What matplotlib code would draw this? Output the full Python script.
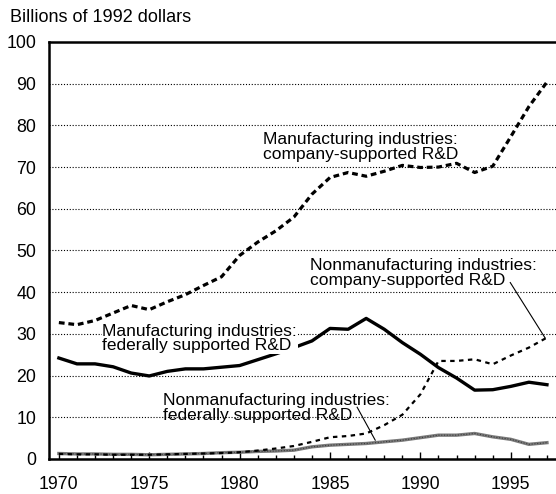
#!/usr/bin/env python3
'''
Industrial R&D by source of funds and industry, 1970-97,
redrawn as out.png.
'''

import numpy as np
from matplotlib import pyplot as plt

plt.rcParams['font.family'] = ['Liberation Sans', 'DejaVu Sans']

YEARS = np.arange(1970, 1998)

# billions of 1992 dollars
MFG_COMPANY = [
    32.7, 32.2, 33.2, 35.0, 36.8, 35.8, 37.7, 39.4, 41.6, 43.7,
    48.8, 52.0, 54.7, 58.0, 63.5, 67.5, 68.7, 67.8, 69.0, 70.4,
    69.9, 70.0, 70.9, 68.7, 70.2, 77.3, 84.5, 90.4,
]
MFG_FEDERAL = [
    24.2, 22.8, 22.8, 22.1, 20.6, 19.9, 21.0, 21.6, 21.6, 22.0,
    22.4, 23.8, 25.2, 26.7, 28.3, 31.3, 31.1, 33.7, 31.1, 27.9,
    25.1, 21.9, 19.4, 16.5, 16.6, 17.4, 18.4, 17.8,
]
NONMFG_COMPANY = [
    1.2, 1.1, 1.1, 1.0, 1.0, 1.0, 1.1, 1.2, 1.3, 1.4,
    1.6, 2.0, 2.5, 3.1, 4.1, 5.2, 5.5, 6.1, 8.1, 10.6,
    15.5, 23.5, 23.5, 23.9, 22.7, 24.8, 26.7, 29.1,
]
NONMFG_FEDERAL = [
    1.3, 1.2, 1.2, 1.1, 1.1, 1.0, 1.1, 1.2, 1.3, 1.5,
    1.6, 1.8, 1.9, 2.1, 2.9, 3.3, 3.5, 3.7, 4.1, 4.5,
    5.1, 5.7, 5.7, 6.1, 5.3, 4.7, 3.5, 3.9,
]

X_TICKS = np.arange(1970, 1996, 5)
Y_TICKS = np.arange(0, 101, 10)
Y_LABEL = 'Billions of 1992 dollars'
PNG_FILENAME = 'out.png'

fig = plt.figure(figsize=(5.56, 4.94), dpi=100)
ax = fig.add_axes([0.088, 0.071, 0.912, 0.844])

# dotted horizontal grid
for y in Y_TICKS[1:-1]:
    ax.axhline(y, color='black', lw=0.8, ls=(0, (1, 1.6)), zorder=1)

ax.plot(YEARS, NONMFG_FEDERAL, color='#7a7a7a', lw=2.4, zorder=2)
ax.plot(YEARS, NONMFG_FEDERAL, color='#3a3a3a', lw=0.8,
        ls=(0, (1, 1.5)), zorder=2)
ax.plot(YEARS, NONMFG_COMPANY, color='black', lw=1.6,
        dashes=(2.0, 2.0), zorder=3)
ax.plot(YEARS, MFG_FEDERAL, color='black', lw=2.4, zorder=3)
ax.plot(YEARS, MFG_COMPANY, color='black', lw=2.3,
        dashes=(1.8, 1.2), zorder=3)

# labels
fs = 12.5
ax.text(1981.27, 74.8, 'Manufacturing industries:\ncompany-supported R&D',
        fontsize=fs, va='center', ha='left', linespacing=0.95)
ax.text(1983.9, 44.6, 'Nonmanufacturing industries:\ncompany-supported R&D',
        fontsize=fs, va='center', ha='left', linespacing=0.95)
ax.text(1972.4, 28.9, 'Manufacturing industries:\nfederally supported R&D',
        fontsize=fs, va='center', ha='left', linespacing=0.95,
        bbox=dict(facecolor='white', edgecolor='none', pad=0.5))
ax.text(1975.75, 12.2, 'Nonmanufacturing industries:\nfederally supported R&D',
        fontsize=fs, va='center', ha='left', linespacing=0.95)

# leader lines
ax.plot([1994.97, 1996.9], [42.3, 29.0], color='black', lw=0.8)
ax.plot([1986.5, 1987.5], [12.4, 4.5], color='black', lw=0.8)

ax.set_xlim(1969.45, 1997.5)
ax.set_ylim(0, 100)

ax.set_xticks(X_TICKS)
ax.set_xticks(YEARS, minor=True)
ax.set_yticks(Y_TICKS)
ax.tick_params(axis='x', which='major', direction='in', length=5,
               width=1, pad=12, labelsize=12.8)
ax.tick_params(axis='x', which='minor', direction='in', length=3, width=1)
ax.tick_params(axis='y', length=0, pad=9, labelsize=12.8)

ax.spines['right'].set_visible(False)
for side in ('left', 'top', 'bottom'):
    ax.spines[side].set_linewidth(1.8)

fig.text(0.018, 1 - 18 / 494, Y_LABEL, fontsize=13, va='center')

fig.savefig(PNG_FILENAME)
